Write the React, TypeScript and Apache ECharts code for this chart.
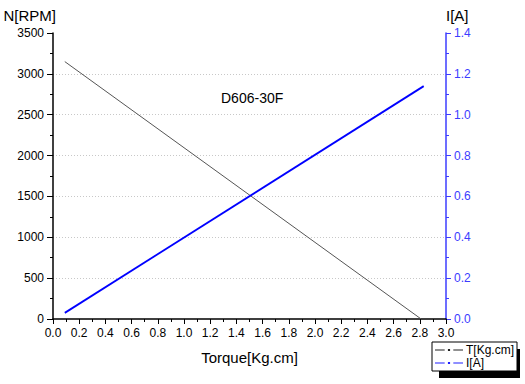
import React, { useEffect, useRef } from "react";
import * as echarts from "echarts";

const torqueTPoints: number[][] = [
  [0.09, 3150],
  [2.81, 0],
];
const currentPoints: number[][] = [
  [0.09, 0.03],
  [2.83, 1.14],
];
const seriesNames = ["T[Kg.cm]", "I[A]"];
const chartTitle = "D606-30F";
const xName = "Torque[Kg.cm]";
const yLeftName = "N[RPM]";
const yRightName = "I[A]";

const FONT = "'Liberation Sans', Arial, sans-serif";
const LEGEND_ICON = "path://M0,4.5H9V5.5H0Z M12,4H14V6H12Z M17,4.5H26V5.5H17Z";

export default function App() {
  const ref = useRef<HTMLDivElement>(null);
  useEffect(() => {
    document.body.style.margin = "0";
    if (!ref.current) return;
    const chart = echarts.init(ref.current, undefined, { renderer: "svg" });
    const blue = "#0000ff";
    const axisBlue = "#3c3cff";
    chart.setOption({
      animation: false,
      backgroundColor: "#ffffff",
      textStyle: { fontFamily: FONT },
      title: {
        text: chartTitle,
        left: 216,
        top: 86,
        textStyle: { fontSize: 14, fontWeight: "normal", color: "#000", fontFamily: FONT },
      },
      grid: { left: 53, right: 79, top: 33, bottom: 65, containLabel: false },
      legend: {
        orient: "vertical",
        left: 432,
        top: 342,
        itemWidth: 28,
        itemHeight: 10,
        itemGap: 1,
        padding: [2, 3, 2, 3],
        backgroundColor: "#ffffff",
        borderColor: "#000",
        borderWidth: 1,
        borderRadius: 0,
        textStyle: { fontSize: 12, lineHeight: 11, color: "#000", fontFamily: FONT, padding: [0, 0, 0, -2] },
        data: seriesNames.map((n) => ({ name: n, icon: LEGEND_ICON })),
        z: 10,
      },
      graphic: [
        {
          type: "rect",
          z: 1,
          zlevel: 0,
          shape: { x: 439, y: 349, width: 81, height: 29 },
          style: { fill: "#000" },
        },
      ],
      xAxis: {
        type: "value",
        min: 0,
        max: 3,
        interval: 0.2,
        name: xName,
        nameLocation: "middle",
        nameGap: 31,
        nameTextStyle: { fontSize: 15, color: "#000", fontFamily: FONT },
        axisLine: { show: true, lineStyle: { color: "#000", width: 1.5 } },
        axisTick: { show: true, inside: false, length: 5, lineStyle: { color: "#000" } },
        minorTick: { show: true, splitNumber: 2, length: 3, lineStyle: { color: "#000" } },
        axisLabel: {
          fontSize: 12,
          color: "#000",
          margin: 8,
          fontFamily: FONT,
          formatter: (v: number) => v.toFixed(1),
        },
        splitLine: { show: false },
      },
      yAxis: [
        {
          type: "value",
          min: 0,
          max: 3500,
          interval: 500,
          position: "left",
          name: yLeftName,
          nameLocation: "end",
          nameGap: 10,
          nameTextStyle: { fontSize: 15, color: "#000", align: "right", padding: [0, -3, 0, 0], fontFamily: FONT },
          axisLine: { show: true, lineStyle: { color: "#000", width: 1.5 } },
          axisTick: { show: true, inside: false, length: 6, lineStyle: { color: "#000" } },
          minorTick: { show: true, splitNumber: 2, length: 3, lineStyle: { color: "#000" } },
          axisLabel: {
            fontSize: 12,
            color: "#000",
            margin: 9,
            fontFamily: FONT,
            formatter: (v: number) => String(v),
          },
          splitLine: {
            show: true,
            showMinLine: false,
            showMaxLine: false,
            lineStyle: { color: "#c8c8c8", type: [1, 2], width: 1 },
          },
        },
        {
          type: "value",
          min: 0,
          max: 1.4,
          interval: 0.2,
          position: "right",
          name: yRightName,
          nameLocation: "end",
          nameGap: 10,
          nameTextStyle: { fontSize: 15, color: "#000", align: "left", padding: [0, 0, 0, 0], fontFamily: FONT },
          axisLine: { show: true, lineStyle: { color: axisBlue, width: 1.5 } },
          axisTick: { show: true, inside: false, length: 5, lineStyle: { color: axisBlue } },
          minorTick: { show: true, splitNumber: 2, length: 3, lineStyle: { color: axisBlue } },
          axisLabel: {
            fontSize: 12,
            color: axisBlue,
            margin: 8,
            fontFamily: FONT,
            formatter: (v: number) => v.toFixed(1),
          },
          splitLine: { show: false },
        },
      ],
      series: [
        {
          name: seriesNames[0],
          type: "line",
          yAxisIndex: 0,
          data: torqueTPoints,
          symbol: "none",
          itemStyle: { color: "#222" },
          lineStyle: { color: "#555555", width: 1 },
        },
        {
          name: seriesNames[1],
          type: "line",
          yAxisIndex: 1,
          data: currentPoints,
          symbol: "none",
          itemStyle: { color: "#2020ff" },
          lineStyle: { color: blue, width: 1.8 },
        },
      ],
    });
    return () => chart.dispose();
  }, []);
  return (
    <div
      ref={ref}
      style={{ position: "fixed", left: 0, top: 0, width: 525, height: 384 }}
    />
  );
}
